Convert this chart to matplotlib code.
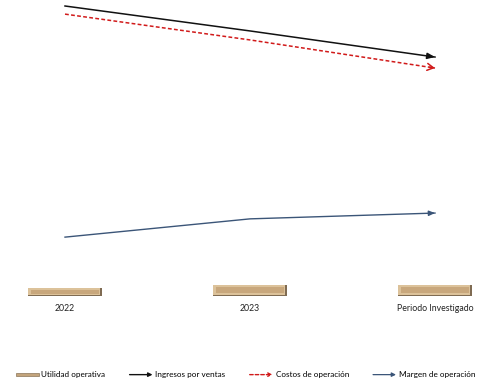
import matplotlib
matplotlib.use("Agg")
import matplotlib.pyplot as plt
from matplotlib.patches import FancyArrowPatch, Rectangle
from matplotlib.legend_handler import HandlerBase
from matplotlib.lines import Line2D

categories = ["2022", "2023", "Periodo Investigado"]
utilidad_operativa = [2.8, 3.8, 3.8]
ingresos_ventas = [100.0, 91.4, 82.4]
costos_operacion = [97.2, 88.3, 78.6]
margen_operacion = [20.3, 26.6, 28.6]

plt.rcParams['font.family'] = ['Lato', 'DejaVu Sans']

fig = plt.figure(figsize=(4.89, 3.80), dpi=100)
ax = fig.add_axes([0, (380 - 296) / 380, 1, 296 / 380])
ax.set_xlim(-65 / 185, (489 - 65) / 185)
ax.set_ylim(0, 296 / 2.9)
for s in ax.spines.values():
    s.set_visible(False)
ax.set_yticks([])
x = list(range(len(categories)))
ax.set_xticks(x)
ax.set_xticklabels(categories, fontsize=6.3, color='#222222')
ax.tick_params(axis='x', length=0, pad=6)

# bevelled bars
ax.bar(x, utilidad_operativa, width=0.4, color='#7f6b52', zorder=2)
ax.bar([i - 0.006 for i in x], [v * 0.88 for v in utilidad_operativa], width=0.392,
       bottom=[v * 0.12 for v in utilidad_operativa], color='#dcc29a', zorder=3)
ax.bar(x, [v * 0.55 for v in utilidad_operativa], width=0.365,
       bottom=[v * 0.25 for v in utilidad_operativa], color='#c8a77c', zorder=4)

def arrow_line(vals, color, ls, style, lw):
    ax.plot(x, vals, color=color, ls=ls, lw=lw, zorder=5)
    x0, y0 = x[-2], vals[-2]
    x1, y1 = x[-1], vals[-1]
    t = 0.97
    ax.annotate('', xy=(x1, y1), xytext=(x0 + t * (x1 - x0), y0 + t * (y1 - y0)),
                arrowprops=dict(arrowstyle=style, color=color, lw=lw,
                                shrinkA=0, shrinkB=0), zorder=6)

arrow_line(ingresos_ventas, '#111111', '-', '-|>,head_length=0.45,head_width=0.18', 1.1)
arrow_line(costos_operacion, '#d11a1a', (0, (2.5, 1.5)), '->,head_length=0.45,head_width=0.25', 1.1)
arrow_line(margen_operacion, '#3b5578', '-', '-|>,head_length=0.35,head_width=0.15', 1.0)


class ArrowHandler(HandlerBase):
    def __init__(self, color, ls, style, lw):
        super().__init__()
        self.color, self.ls, self.style, self.lw = color, ls, style, lw

    def create_artists(self, legend, orig_handle, xdescent, ydescent, width,
                       height, fontsize, trans):
        y = height / 2 - ydescent
        a = FancyArrowPatch((-xdescent, y), (-xdescent + width, y),
                            arrowstyle=self.style, color=self.color,
                            lw=self.lw, linestyle=self.ls, transform=trans,
                            mutation_scale=6, shrinkA=0, shrinkB=0)
        return [a]


class BarHandler(HandlerBase):
    def create_artists(self, legend, orig_handle, xdescent, ydescent, width,
                       height, fontsize, trans):
        r = Rectangle((-xdescent, height * 0.3 - ydescent), width, height * 0.4,
                      facecolor='#c3a47c', edgecolor='#8a7558', lw=0.5,
                      transform=trans)
        return [r]


h_bar = Rectangle((0, 0), 1, 1)
h1 = Line2D([], [], color='#111111')
h2 = Line2D([], [], color='#d11a1a')
h3 = Line2D([], [], color='#3b5578')
fig.legend([h_bar, h1, h2, h3],
           ["Utilidad operativa", "Ingresos por ventas", "Costos de operación",
            "Margen de operación"],
           handler_map={
               h_bar: BarHandler(),
               h1: ArrowHandler('#111111', '-', '-|>', 1.0),
               h2: ArrowHandler('#d11a1a', (0, (2.5, 1.5)), '->', 1.0),
               h3: ArrowHandler('#3b5578', '-', '-|>', 0.9),
           },
           loc='center', bbox_to_anchor=(0.502, 1 - 375 / 380), ncol=4,
           frameon=False, fontsize=5.9, handlelength=2.8, handletextpad=0.35,
           columnspacing=2.95, borderpad=0)

fig.savefig("out.png", dpi=100)
